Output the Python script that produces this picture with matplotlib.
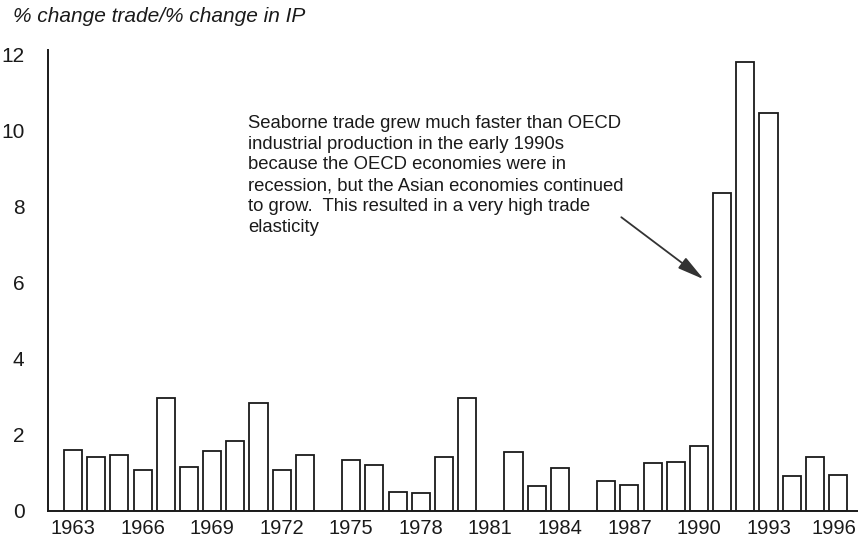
import matplotlib
matplotlib.use("Agg")
import matplotlib.pyplot as plt
import matplotlib.transforms as mtransforms
import numpy as np

plt.rcParams['font.family'] = ['Liberation Sans', 'DejaVu Sans']

years = list(range(1963, 1997))
values = [1.61, 1.41, 1.48, 1.08, 2.97, 1.17, 1.59, 1.85, 2.85, 1.08, 1.47,
          0.0, 1.35, 1.20, 0.49, 0.47, 1.41, 2.98, 0.0, 1.55, 0.65, 1.14,
          0.0, 0.80, 0.68, 1.25, 1.29, 1.72, 8.36, 11.82, 10.46, 0.91, 1.41, 0.94]
tick_years = list(range(1963, 1997, 3))
y_ticks = [0, 2, 4, 6, 8, 10, 12]
ylabel_text = "% change trade/% change in IP"
note = ("Seaborne trade grew much faster than OECD\n"
        "industrial production in the early 1990s\n"
        "because the OECD economies were in\n"
        "recession, but the Asian economies continued\n"
        "to grow.  This resulted in a very high trade\n"
        "elasticity")

fig = plt.figure(figsize=(8.58, 5.46), dpi=100)
ax = fig.add_axes([48/858, 35/546, 1 - 48/858, 461/546])

yrs = np.array(years)
vals = np.array(values)
mask = vals > 0
ax.bar(yrs[mask], vals[mask], width=0.78, facecolor='white',
       edgecolor='#1a1a1a', linewidth=1.3, zorder=2)

ax.set_xlim(1961.92, 1996.86)
ax.set_ylim(0, 12.13)
ax.set_xticks(tick_years)
ax.set_xticklabels([str(t) for t in tick_years], fontsize=14.5, color='#1a1a1a')
ax.set_yticks(y_ticks)
ax.set_yticklabels([str(t) for t in y_ticks], fontsize=15, color='#1a1a1a')
ax.tick_params(axis='both', length=0)
ax.tick_params(axis='y', pad=17)
ax.tick_params(axis='x', pad=6)
for s in ['top', 'right']:
    ax.spines[s].set_visible(False)
for s in ['left', 'bottom']:
    ax.spines[s].set_linewidth(1.4)
    ax.spines[s].set_color('#1a1a1a')

# keep the last year label inside the figure edge
last = ax.get_xticklabels()[-1]
last.set_transform(last.get_transform() +
                   mtransforms.ScaledTranslation(-4/100, 0, fig.dpi_scale_trans))

fig.text(13/858, 1 - 17/546, ylabel_text, fontsize=15, style='italic',
         color='#1a1a1a', va='center', ha='left')

ax.text(1970.55, 10.43, note, fontsize=13.3, color='#1a1a1a', va='top', ha='left',
        linespacing=1.3)
ax.annotate('', xy=(1990.2, 6.1), xytext=(1986.65, 7.73),
            arrowprops=dict(arrowstyle='-|>,head_length=0.9,head_width=0.22',
                            color='#333333', lw=1.3, shrinkA=0, shrinkB=0,
                            mutation_scale=18))

fig.savefig('out.png', dpi=100, facecolor='white')
